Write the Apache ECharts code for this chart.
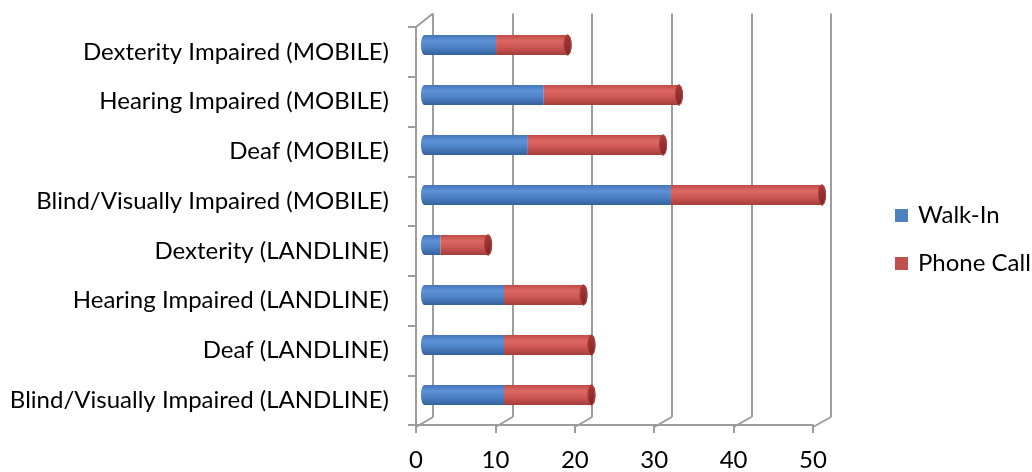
<!DOCTYPE html>
<html>
<head>
<meta charset="utf-8">
<script src="https://cdn.jsdelivr.net/npm/echarts@6/dist/echarts.min.js"></script>
<style>
  html, body { margin: 0; padding: 0; background: #ffffff; }
  #chart { width: 1032px; height: 472px; }
</style>
</head>
<body>
<div id="chart"></div>
<script>
// Categories, listed bottom to top as the category axis draws them
const categories = [
  'Blind/Visually Impaired (LANDLINE)',
  'Deaf (LANDLINE)',
  'Hearing Impaired (LANDLINE)',
  'Dexterity (LANDLINE)',
  'Blind/Visually Impaired (MOBILE)',
  'Deaf (MOBILE)',
  'Hearing Impaired (MOBILE)',
  'Dexterity Impaired (MOBILE)'
];
const walkIn    = [10, 10, 10, 2, 31, 13, 15, 9];
const phoneCall = [11, 11, 10, 6, 19, 17, 17, 9];
const xTicks    = [0, 10, 20, 30, 40, 50];
const seriesNames = ['Walk-In', 'Phone Call'];
const seriesColors = ['#4f81bd', '#c0504d'];

// Pseudo-3D box: a front plane (axes), a back wall (gridlines) and a mid plane (bars)
const FRONT = { left: 416, top: 27, width: 397, height: 400 };
const BACK  = { left: 433, top: 13.5, width: 398, height: 403.5 };
const MID   = { left: 424.5, top: 20, width: 397.5, height: 400 };

const FONT = 'Lato, "Open Sans", sans-serif';
const FONT_SIZE = 24;
const GRID_GREY = '#9c9c9c';

const blueFill = new echarts.graphic.LinearGradient(0, 0, 0, 1, [
  { offset: 0, color: '#4575b6' },
  { offset: 0.3, color: '#5d92d8' },
  { offset: 0.6, color: '#4e82c6' },
  { offset: 1, color: '#33619c' }
]);
const redFill = new echarts.graphic.LinearGradient(0, 0, 0, 1, [
  { offset: 0, color: '#bf4b48' },
  { offset: 0.3, color: '#dc6763' },
  { offset: 0.6, color: '#cd5754' },
  { offset: 1, color: '#a43d3a' }
]);
const capFill = new echarts.graphic.LinearGradient(0, 0, 0, 1, [
  { offset: 0, color: '#a63a37' },
  { offset: 0.5, color: '#93302e' },
  { offset: 1, color: '#7d2624' }
]);

const xMax = xTicks[xTicks.length - 1];
const gridOf = g => ({ left: g.left, top: g.top, width: g.width, height: g.height, containLabel: false });

const capData = categories.map((c, i) => [walkIn[i] + phoneCall[i], i]);

const chart = echarts.init(document.getElementById('chart'), null, { renderer: 'canvas' });

chart.setOption({
  animation: false,
  backgroundColor: '#ffffff',
  grid: [gridOf(BACK), gridOf(FRONT), gridOf(MID)],
  legend: {
    data: seriesNames.map((n, i) => ({ name: n, itemStyle: { color: seriesColors[i] } })),
    orient: 'vertical',
    left: 890,
    top: 198,
    padding: 5,
    itemWidth: 13,
    itemHeight: 13,
    itemGap: 23,
    icon: 'rect',
    textStyle: { fontFamily: FONT, fontSize: FONT_SIZE, color: '#000', lineHeight: 25, padding: [0, 0, 0, 5] }
  },
  xAxis: [
    { // back wall gridlines
      gridIndex: 0, type: 'value', min: 0, max: xMax, interval: 10,
      axisLine: { show: false }, axisTick: { show: false }, axisLabel: { show: false },
      splitLine: { show: true, lineStyle: { color: GRID_GREY, width: 2 } }
    },
    { // front value axis with labels
      gridIndex: 1, type: 'value', min: 0, max: xMax, interval: 10,
      axisLine: { show: true, onZero: false, lineStyle: { color: GRID_GREY, width: 2 } },
      axisTick: { show: true, length: 8, lineStyle: { color: GRID_GREY, width: 2 } },
      axisLabel: { fontFamily: FONT, fontSize: FONT_SIZE, color: '#000', margin: 23 },
      splitLine: { show: false }
    },
    { // mid plane carrying the bars
      gridIndex: 2, type: 'value', min: 0, max: xMax, show: false
    }
  ],
  yAxis: [
    { gridIndex: 0, type: 'category', data: categories, show: false },
    {
      gridIndex: 1, type: 'category', data: categories,
      axisLine: { show: true, lineStyle: { color: GRID_GREY, width: 2 } },
      axisTick: { show: true, length: 8, lineStyle: { color: GRID_GREY, width: 2 } },
      axisLabel: { fontFamily: FONT, fontSize: FONT_SIZE, color: '#000', margin: 27 }
    },
    { gridIndex: 2, type: 'category', data: categories, show: false }
  ],
  series: [
    {
      name: seriesNames[0], type: 'bar', stack: 'total',
      xAxisIndex: 2, yAxisIndex: 2, barWidth: '40%',
      itemStyle: { color: blueFill },
      data: walkIn
    },
    {
      name: seriesNames[1], type: 'bar', stack: 'total',
      xAxisIndex: 2, yAxisIndex: 2, barWidth: '40%',
      itemStyle: { color: redFill },
      data: phoneCall
    },
    { // rounded cylinder ends: left face of the walk-in part, right face of the total
      type: 'custom', xAxisIndex: 2, yAxisIndex: 2, z: 3,
      encode: { x: 0, y: 1 },
      data: capData,
      renderItem: function (params, api) {
        const cat = api.value(1);
        const start = api.coord([0, cat]);
        const end = api.coord([api.value(0), cat]);
        const h = api.size([0, 1])[1] * 0.4;
        const rx = 3.5;
        return {
          type: 'group',
          children: [
            {
              type: 'ellipse',
              shape: { cx: start[0], cy: start[1], rx: rx, ry: h / 2 },
              style: { fill: blueFill }
            },
            {
              type: 'ellipse',
              shape: { cx: end[0], cy: end[1], rx: rx, ry: h / 2 },
              style: { fill: capFill, stroke: '#b0403d', lineWidth: 1 }
            }
          ]
        };
      }
    }
  ]
});

// Floor and corner edges joining the front plane to the back wall
const frontBottom = FRONT.top + FRONT.height;
const backBottom = BACK.top + BACK.height;
const edges = xTicks.map(v => {
  const xf = chart.convertToPixel({ xAxisIndex: 1 }, v);
  const xb = chart.convertToPixel({ xAxisIndex: 0 }, v);
  return { type: 'line', shape: { x1: xf, y1: frontBottom, x2: xb, y2: backBottom },
           style: { stroke: GRID_GREY, lineWidth: 2 }, z: 1 };
});
edges.push({ type: 'line', shape: { x1: FRONT.left, y1: FRONT.top, x2: BACK.left, y2: BACK.top },
             style: { stroke: GRID_GREY, lineWidth: 2 }, z: 1 });
chart.setOption({ graphic: { elements: edges } });
</script>
</body>
</html>
